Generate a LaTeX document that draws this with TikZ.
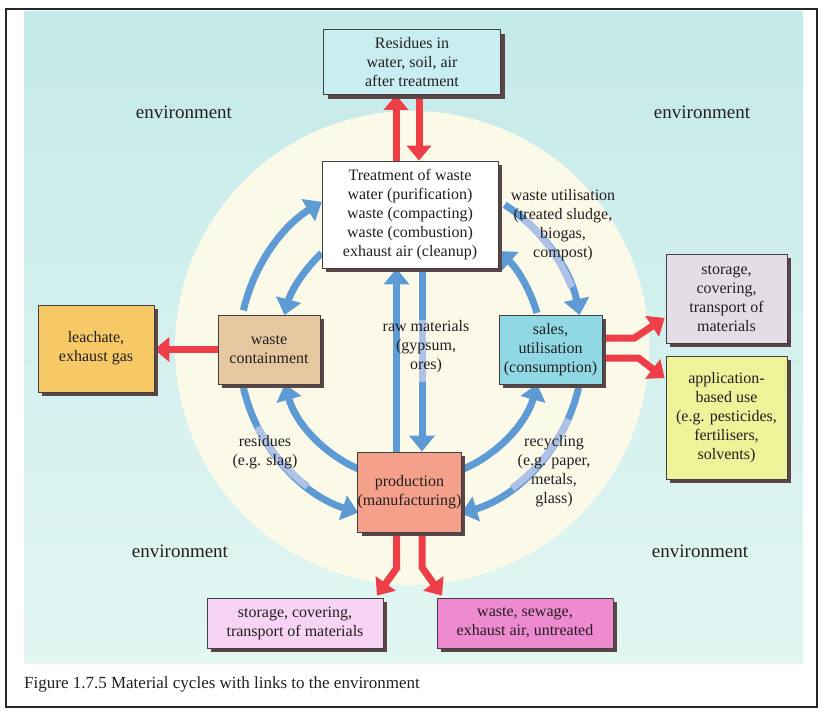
\documentclass[tikz,border=0pt]{standalone}
\usepackage{fontspec}
\setmainfont{Liberation Serif}
\usetikzlibrary{arrows.meta,shadows,calc}
\definecolor{txt}{HTML}{231F20}
\definecolor{bgtop}{HTML}{C4EAEA}
\definecolor{bgbot}{HTML}{E2F6F2}
\definecolor{cream}{HTML}{FBF9E8}
\definecolor{redc}{HTML}{EE3E48}
\definecolor{bluec}{HTML}{5E9AD4}
\definecolor{bluelight}{HTML}{AEC2E8}
\definecolor{shadowc}{HTML}{5A4646}
\definecolor{fres}{HTML}{C9EEF2}
\definecolor{fcont}{HTML}{E6C8A0}
\definecolor{fsales}{HTML}{8FD8E4}
\definecolor{fprod}{HTML}{F4A08A}
\definecolor{fleach}{HTML}{F6C966}
\definecolor{fstoreA}{HTML}{E4DDE6}
\definecolor{fapp}{HTML}{EEF39A}
\definecolor{fstoreB}{HTML}{F7D4F4}
\definecolor{fwsew}{HTML}{EE8AD0}
\pgfdeclarelayer{bglayer}
\pgfdeclarelayer{arrlayer}
\pgfsetlayers{bglayer,arrlayer,main}
\begin{document}
\begin{tikzpicture}[x=1pt,y=-1pt,
  box/.style={draw=black!75, line width=0.8pt, align=center, inner sep=0pt,
    text=txt, font=\fontsize{16}{19}\selectfont,
    general shadow={fill=shadowc, shadow xshift=4pt, shadow yshift=-4pt}},
  lbl/.style={align=center, inner sep=0pt, text=txt, font=\fontsize{16}{19}\selectfont},
  envlbl/.style={inner sep=0pt, text=txt, font=\fontsize{19}{22}\selectfont},
  blu/.style={draw=bluec, line width=7pt, -{Triangle[width=25pt,length=16pt]}},
  fade/.style={draw=bluelight, line width=7pt},
  redarr/.style={draw=redc, line width=7pt, -{Triangle[width=24pt,length=15pt]}}]
\useasboundingbox (0,0) rectangle (825,715);
\begin{pgfonlayer}{bglayer}
\fill[white] (0,0) rectangle (825,715);
\shade[top color=bgtop, bottom color=bgbot] (24,11) rectangle (803,663);
\draw[line width=1.2pt, black!85] (6,9) rectangle (817,707);
\coordinate (C0) at (412,348);
\fill[cream] (C0) circle[radius=237];
\end{pgfonlayer}
\coordinate (C) at (411,349);

% boxes
\node[box, fill=fres, minimum width=177pt, minimum height=65pt] (res) at (412,62) {Residues in\\water, soil, air\\after treatment};
\node[box, fill=white, minimum width=176pt, minimum height=107pt] (treat) at (410,214.5) {Treatment of waste\\water (purification)\\waste (compacting)\\waste (combustion)\\exhaust air (cleanup)};
\node[box, fill=fcont, minimum width=102pt, minimum height=69pt] (cont) at (269,349.5) {waste\\containment};
\node[box, fill=fsales, minimum width=103pt, minimum height=69pt] (sales) at (550.5,349.5) {sales,\\utilisation\\(consumption)};
\node[box, fill=fprod, minimum width=103pt, minimum height=80pt] (prod) at (409.5,492) {production\\(manufacturing)};
\node[box, fill=fleach, minimum width=116pt, minimum height=87pt] (leach) at (96,348.5) {leachate,\\exhaust gas};
\node[box, fill=fstoreA, minimum width=121pt, minimum height=89pt] (storeA) at (726.5,298.5) {storage,\\covering,\\transport of\\materials};
\node[box, fill=fapp, minimum width=121pt, minimum height=123pt] (app) at (726.5,417.5) {application-\\based use\\(e.g. pesticides,\\fertilisers,\\solvents)};
\node[box, fill=fstoreB, minimum width=176pt, minimum height=50pt] (storeB) at (295,623) {storage, covering,\\transport of materials};
\node[box, fill=fwsew, minimum width=176pt, minimum height=50pt] (wsew) at (525,623) {waste, sewage,\\exhaust air, untreated};

% anchor points for vertical arrows
\coordinate (pu) at ($(prod.north)+(-13,0)$);
\coordinate (pd) at ($(prod.north)+(12.5,0)$);
\coordinate (tu) at ($(treat.north)+(-14,0)$);
\coordinate (td) at ($(treat.north)+(9,0)$);
\coordinate (su) at ($(prod.south)+(-13,0)$);
\coordinate (sd) at ($(prod.south)+(12.5,0)$);

\begin{pgfonlayer}{arrlayer}
% blue cycle arrows (outer)
\draw[blu] ($(C)+(193:172)$) arc[start angle=193, end angle=238.8, radius=172];
\draw[blu] ($(C)+(167:172)$) arc[start angle=167, end angle=107.9, radius=172];
\draw[blu] ($(C)+(-57:172)$) arc[start angle=-57, end angle=-11.4, radius=172];
\draw[blu] ($(C)+(13:172)$) arc[start angle=13, end angle=73.1, radius=172];
% inner
\draw[blu] ($(C)+(227:131)$) arc[start angle=227, end angle=195, radius=131];
\draw[blu] ($(C)+(113:131)$) arc[start angle=113, end angle=164.5, radius=131];
\draw[blu] ($(C)+(-16:131)$) arc[start angle=-16, end angle=-48.4, radius=131];
\draw[blu] ($(C)+(67:131)$) arc[start angle=67, end angle=15.5, radius=131];
% vertical blue
\draw[blu] (pu) -- (pu |- treat.south);
\draw[blu] (pd |- treat.south) -- (pd);
% paler stretches of the blue arrows
\draw[fade] ($(C)+(-49:172)$) arc[start angle=-49, end angle=-21, radius=172];
\draw[fade] ($(C)+(153:172)$) arc[start angle=153, end angle=127, radius=172];
\draw[fade] ($(C)+(24:172)$) arc[start angle=24, end angle=54, radius=172];
\draw[fade] ($(pd)+(0,-132)$) -- ($(pd)+(0,-70)$);

% red arrows
\draw[redarr] (tu) -- (tu |- res.south);
\draw[redarr] (td |- res.south) -- (td);
\draw[redarr] (cont.west) -- (leach.east |- cont.west);
\draw[redarr] ($(sales.east)+(0,-11.5)$) -- ++(32,0) -- ($(storeA.west)+(-1,19.5)$);
\draw[redarr] ($(sales.east)+(0,8.5)$) -- ++(36,0) -- ($(app.west)+(-1,-39.5)$);
\draw[redarr] (su) -- ++(0,36) -- ($(storeB.north)+(82,-2)$);
\draw[redarr] (sd) -- ++(0,35) -- ($(wsew.north)+(-83,-2)$);
\end{pgfonlayer}

% labels
\node[lbl] (lwu) at (563,225) {waste utilisation\\(treated sludge,\\biogas,\\compost)};
\node[lbl] (lraw) at (426,347) {raw materials\\(gypsum,\\ores)};
\node[lbl] (lres) at (265,452.5) {residues\\(e.g. slag)};
\node[lbl] (lrec) at (554,471) {recycling\\(e.g. paper,\\metals,\\glass)};

\node[envlbl] (e1) at (184,112) {environment};
\node[envlbl] (e2) at (702,112) {environment};
\node[envlbl] (e3) at (180,551) {environment};
\node[envlbl] (e4) at (700,551) {environment};

\node[anchor=west, inner sep=0pt, text=txt, font=\fontsize{17}{20}\selectfont] (cap) at (24,684) {Figure 1.7.5 Material cycles with links to the environment};
\end{tikzpicture}
\end{document}
